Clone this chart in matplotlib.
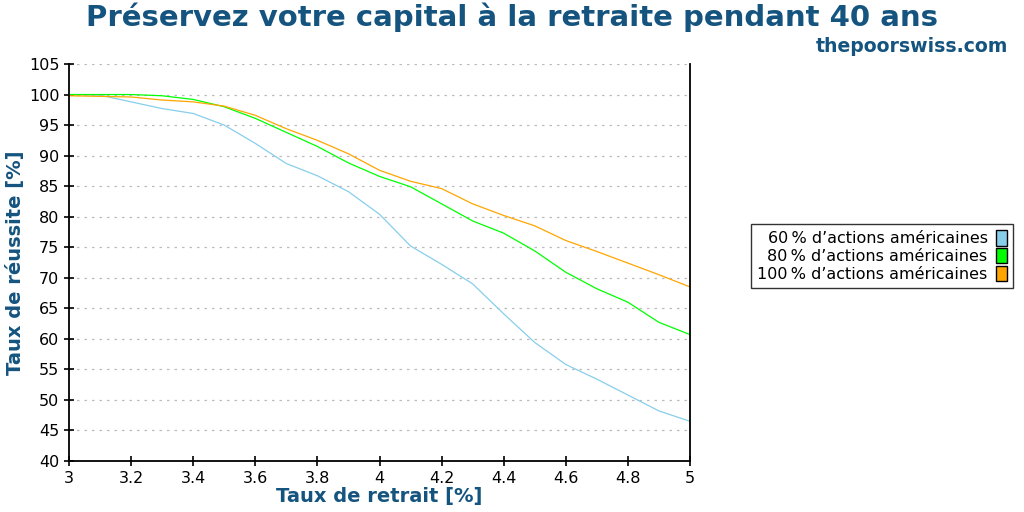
import matplotlib
matplotlib.use("Agg")
import matplotlib.pyplot as plt
from matplotlib.patches import Patch

rates = [3.0, 3.1, 3.2, 3.3, 3.4, 3.5, 3.6, 3.7, 3.8, 3.9, 4.0,
         4.1, 4.2, 4.3, 4.4, 4.5, 4.6, 4.7, 4.8, 4.9, 5.0]
stocks60 = [100, 99.9, 98.8, 97.7, 96.9, 95.0, 92.0, 88.7, 86.7, 84.1, 80.4,
            75.2, 72.2, 69.0, 64.1, 59.4, 55.8, 53.4, 50.8, 48.2, 46.5]
stocks80 = [100, 100, 100, 99.8, 99.2, 98.0, 96.1, 93.8, 91.5, 88.8, 86.6,
            84.9, 82.1, 79.3, 77.3, 74.4, 70.9, 68.2, 66.0, 62.7, 60.7]
stocks100 = [99.8, 99.7, 99.6, 99.1, 98.8, 98.1, 96.6, 94.4, 92.5, 90.3, 87.6,
             85.8, 84.6, 82.1, 80.2, 78.5, 76.1, 74.3, 72.4, 70.5, 68.5]
series_labels = ["60\u202f% d\u2019actions américaines",
                 "80\u202f% d\u2019actions américaines",
                 "100\u202f% d\u2019actions américaines"]
colors = ["#87CEEB", "#00FF00", "#FFA500"]
xticks = [3, 3.2, 3.4, 3.6, 3.8, 4, 4.2, 4.4, 4.6, 4.8, 5]
xticklabels = ["3", "3.2", "3.4", "3.6", "3.8", "4", "4.2", "4.4", "4.6", "4.8", "5"]
yticks = list(range(40, 106, 5))

title_color = "#14547f"

fig = plt.figure(figsize=(10.24, 5.12), dpi=100)
ax = fig.add_axes([69/1024, 1-461/512, (690-69)/1024, (461-64)/512])

for vals, c in zip([stocks60, stocks80, stocks100], colors):
    ax.plot(rates, vals, color=c, lw=0.9)

ax.set_xlim(3, 5)
ax.set_ylim(40, 105)
ax.set_xticks(xticks)
ax.set_xticklabels(xticklabels)
ax.set_yticks(yticks)
ax.tick_params(axis="both", direction="inout", length=7, width=1.2, labelsize=11.5, colors="black")
ax.yaxis.grid(True, linestyle=(0, (2, 4)), color="#bbbbbb", lw=0.9)
ax.set_axisbelow(True)
ax.spines["top"].set_visible(False)
for s in ["left", "bottom", "right"]:
    ax.spines[s].set_linewidth(1.3)

ax.set_xlabel("Taux de retrait [%]", fontsize=14, fontweight="bold", color=title_color, labelpad=1)
ax.set_ylabel("Taux de réussite [%]", fontsize=14, fontweight="bold", color=title_color, labelpad=3)

fig.text(0.5, 1-17/512, "Préservez votre capital à la retraite pendant 40 ans",
         ha="center", va="center", fontsize=21, fontweight="bold", color=title_color)
fig.text(1008/1024, 1-46/512, "thepoorswiss.com", ha="right", va="center",
         fontsize=13.6, fontweight="bold", color=title_color)

handles = [Patch(facecolor=c, edgecolor="black", lw=1) for c in colors]
leg = fig.legend(handles, series_labels, loc="center", bbox_to_anchor=(882/1024, 1-256/512),
                 markerfirst=False, fontsize=11.5, frameon=True, fancybox=False,
                 edgecolor="black", handlelength=0.7, handleheight=1.1,
                 handletextpad=0.5, labelspacing=0.1, borderpad=0.4)
leg.get_frame().set_linewidth(1.0)
for t in leg.get_texts():
    t.set_ha("right")

fig.savefig("out.png", dpi=100)
